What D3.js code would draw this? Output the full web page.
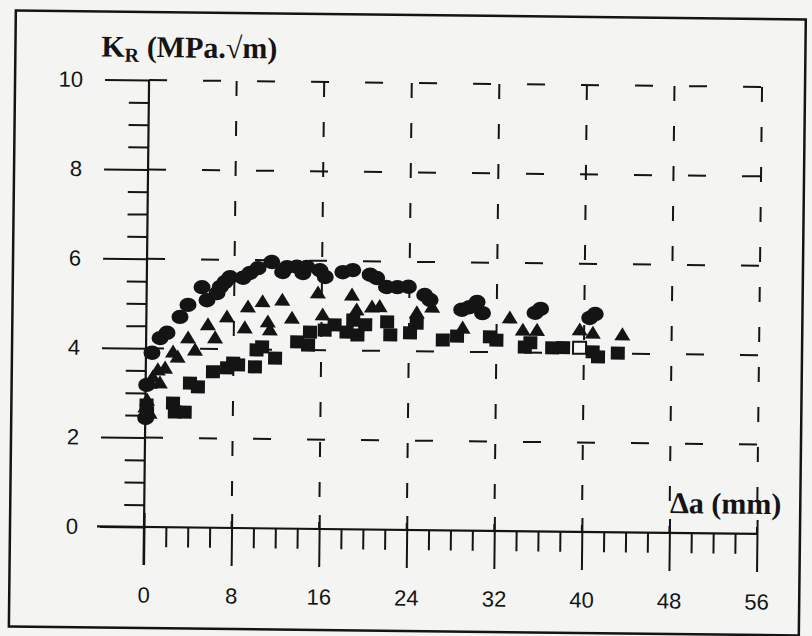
<!DOCTYPE html>
<html>
<head>
<meta charset="utf-8">
<script src="https://cdn.jsdelivr.net/npm/d3@7"></script>
<style>
  html, body { margin: 0; padding: 0; background: #f4f4f2; }
  svg { display: block; }
</style>
</head>
<body>
<svg id="chart" width="812" height="636"></svg>
<script>
// Crack growth resistance K_R versus crack extension Δa, three specimens.
// Each entry: [Δa (mm), K_R (MPa·√m)]
const circlePoints = [
  [0.04, 2.44], [0.1, 3.18], [0.55, 3.9], [1.27, 4.23], [1.9, 4.35], [3.07, 4.71],
  [3.79, 4.98], [5.05, 5.38], [5.52, 5.09], [6.43, 5.25], [6.72, 5.39], [7.14, 5.5],
  [7.6, 5.61], [8.78, 5.6], [9.42, 5.71], [10.15, 5.82], [11.4, 5.96], [12.4, 5.74],
  [12.8, 5.85], [13.7, 5.86], [14.25, 5.72], [14.6, 5.86], [15.8, 5.79], [16.3, 5.64],
  [17.9, 5.75], [18.8, 5.8], [20.4, 5.7], [21.0, 5.63], [21.9, 5.43], [22.9, 5.43],
  [23.9, 5.44], [25.4, 5.26], [25.9, 5.15], [28.8, 4.94], [29.5, 5.0], [30.2, 5.12],
  [30.7, 4.87], [35.5, 4.89], [36.0, 4.98], [40.5, 4.79], [41.0, 4.88]
];
const trianglePoints = [
  [0.15, 2.84], [0.0, 2.68], [0.4, 2.55], [0.4, 3.22], [1.3, 3.23], [0.65, 3.36],
  [1.1, 3.52], [1.76, 3.56], [2.47, 3.92], [2.9, 3.81], [3.83, 4.24], [4.48, 3.97],
  [6.3, 4.25], [5.63, 4.54], [7.36, 4.72], [9.0, 4.48], [9.27, 4.95], [10.6, 5.07],
  [11.1, 4.62], [11.3, 4.44], [12.4, 5.11], [13.3, 4.71], [15.65, 5.28], [16.1, 4.79],
  [18.76, 5.24], [19.2, 4.91], [20.6, 4.98], [21.3, 4.99], [24.7, 4.86], [26.1, 4.99],
  [28.9, 4.53], [33.2, 4.77], [34.4, 4.5], [35.7, 4.5], [39.6, 4.52], [40.8, 4.45],
  [43.5, 4.42]
];
const squarePoints = [
  [0.16, 2.55], [0.1, 2.73], [2.52, 2.78], [2.7, 2.58], [3.6, 2.58], [4.05, 3.23],
  [4.78, 3.15], [6.14, 3.49], [7.42, 3.58], [7.97, 3.69], [8.43, 3.65], [9.97, 3.61],
  [10.1, 3.99], [10.6, 4.06], [11.8, 3.81], [13.8, 4.18], [14.8, 4.11], [14.96, 4.4],
  [16.3, 4.45], [17.2, 4.57], [18.3, 4.41], [18.9, 4.68], [19.3, 4.35], [20.0, 4.58],
  [22.0, 4.65], [22.3, 4.36], [24.1, 4.41], [24.7, 4.63], [27.1, 4.26], [28.4, 4.35],
  [31.4, 4.34], [32.0, 4.27], [34.6, 4.12], [35.1, 4.22], [37.1, 4.11], [38.1, 4.12],
  [40.8, 4.03], [41.3, 3.92], [43.1, 4.01]
];
const openSquarePoints = [[39.6, 4.12]];

const xMajorTicks = [0, 8, 16, 24, 32, 40, 48, 56];
const xMinorTicks = d3.range(0, 57, 2).filter(v => v % 8 !== 0);
const yMajorTicks = [0, 2, 4, 6, 8, 10];
const yMinorTicks = d3.range(0, 10.01, 0.5).filter(v => v % 2 !== 0);
const gridX = [8, 16, 24, 32, 40, 48, 56];
const gridY = [2, 4, 6, 8, 10];

const yTitle = "(MPa.√m)";
const xTitle = "Δa (mm)";

const ink = "#141414";
const svg = d3.select("#chart");

// slightly skewed sheet: whole drawing turned a little clockwise about the origin
const x = d3.scaleLinear().domain([0, 56]).range([144, 757]);
const y = d3.scaleLinear().domain([0, 10]).range([527, 80]);
const root = svg.append("g").attr("transform", `rotate(0.65, ${x(0)}, ${y(0)})`);

// page frame
root.append("rect")
  .attr("x", 10).attr("y", 12).attr("width", 790).attr("height", 616)
  .attr("fill", "none").attr("stroke", ink).attr("stroke-width", 2.5);

// dashed grid
root.append("g").selectAll("line").data(gridY).join("line")
  .attr("x1", x(0)).attr("x2", x(56))
  .attr("y1", d => y(d)).attr("y2", d => y(d))
  .attr("stroke", ink).attr("stroke-width", 2)
  .attr("stroke-dasharray", "18,36");
root.append("g").selectAll("line").data(gridX).join("line")
  .attr("x1", d => x(d)).attr("x2", d => x(d))
  .attr("y1", y(10)).attr("y2", y(0))
  .attr("stroke", ink).attr("stroke-width", 2)
  .attr("stroke-dasharray", "15,25");

const tickFont = "'Liberation Sans', Arial, sans-serif";

// x axis: major ticks with labels, minor ticks below
const xAxisMajor = d3.axisBottom(x).tickValues(xMajorTicks).tickSize(38).tickPadding(22)
  .tickFormat(d3.format("d"));
const gx = root.append("g").attr("transform", `translate(0,${y(0)})`).call(xAxisMajor);
gx.select(".domain").remove();
gx.selectAll(".tick line").attr("stroke", ink).attr("stroke-width", 2).attr("y1", -14);
gx.selectAll(".tick text").attr("fill", ink)
  .style("font-family", tickFont).style("font-size", "22px");
const gxMinor = root.append("g").attr("transform", `translate(0,${y(0)})`)
  .call(d3.axisBottom(x).tickValues(xMinorTicks).tickSize(20).tickFormat(""));
gxMinor.select(".domain").remove();
gxMinor.selectAll(".tick line").attr("stroke", ink).attr("stroke-width", 2);
root.append("line")
  .attr("x1", x(0) - 47).attr("x2", x(56))
  .attr("y1", y(0)).attr("y2", y(0))
  .attr("stroke", ink).attr("stroke-width", 2.2);

// y axis: long major ticks with labels, short minor ticks
const yAxisMajor = d3.axisLeft(y).tickValues(yMajorTicks).tickSize(44).tickPadding(22)
  .tickFormat(d3.format("d"));
const gy = root.append("g").attr("transform", `translate(${x(0)},0)`).call(yAxisMajor);
gy.select(".domain").remove();
gy.selectAll(".tick line").attr("stroke", ink).attr("stroke-width", 2);
gy.selectAll(".tick text").attr("fill", ink)
  .style("font-family", tickFont).style("font-size", "22px");
const gyMinor = root.append("g").attr("transform", `translate(${x(0)},0)`)
  .call(d3.axisLeft(y).tickValues(yMinorTicks).tickSize(20).tickFormat(""));
gyMinor.select(".domain").remove();
gyMinor.selectAll(".tick line").attr("stroke", ink).attr("stroke-width", 2);
root.append("line")
  .attr("x1", x(0)).attr("x2", x(0))
  .attr("y1", y(10)).attr("y2", y(0) + 38)
  .attr("stroke", ink).attr("stroke-width", 2.2);

// axis titles
const titleFont = "'Liberation Serif', 'Times New Roman', serif";
const yt = root.append("text")
  .attr("x", 96).attr("y", 57)
  .attr("fill", ink)
  .style("font-family", titleFont)
  .style("font-weight", "bold").style("font-size", "30px");
yt.append("tspan").text("K");
yt.append("tspan").attr("dy", 5).style("font-size", "20px").text("R");
yt.append("tspan").attr("dy", -5).text(" " + yTitle);

root.append("text")
  .attr("x", 781).attr("y", 507)
  .attr("text-anchor", "end")
  .attr("fill", ink)
  .style("font-family", titleFont)
  .style("font-weight", "bold").style("font-size", "30px")
  .text(xTitle);

// markers
const marks = root.append("g").attr("fill", ink);
marks.selectAll("ellipse").data(circlePoints).join("ellipse")
  .attr("cx", d => x(d[0])).attr("cy", d => y(d[1]))
  .attr("rx", 8.5).attr("ry", 7.2);
const tri = (cx, cy) => `M${cx - 8},${cy + 5.5} L${cx + 8},${cy + 5.5} L${cx},${cy - 7.5} Z`;
marks.selectAll("path.tri").data(trianglePoints).join("path")
  .attr("class", "tri")
  .attr("d", d => tri(x(d[0]), y(d[1])));
marks.selectAll("rect.sq").data(squarePoints).join("rect")
  .attr("class", "sq")
  .attr("x", d => x(d[0]) - 7).attr("y", d => y(d[1]) - 6.5)
  .attr("width", 14).attr("height", 13);
marks.selectAll("rect.osq").data(openSquarePoints).join("rect")
  .attr("class", "osq")
  .attr("x", d => x(d[0]) - 6.5).attr("y", d => y(d[1]) - 6)
  .attr("width", 13).attr("height", 12)
  .attr("fill", "#f8f8f8").attr("stroke", ink).attr("stroke-width", 2);
</script>
</body>
</html>
